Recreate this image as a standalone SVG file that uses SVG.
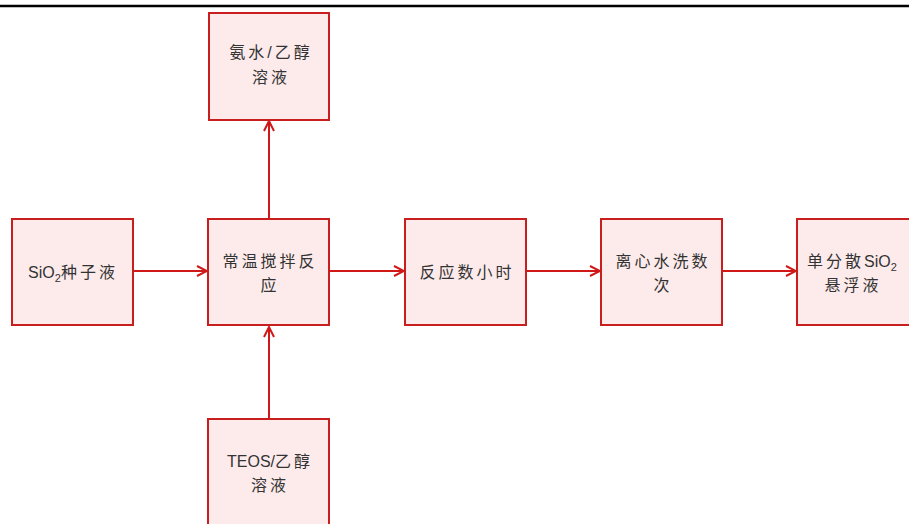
<svg xmlns="http://www.w3.org/2000/svg" width="909" height="524" viewBox="0 0 909 524">
<defs>
<style>
.box{fill:#FDEBEC;stroke:#C81E1E;stroke-width:2}
.t{font-family:"Liberation Sans","Noto Sans CJK SC",sans-serif;font-size:16px;fill:#333;text-anchor:middle}
.w{letter-spacing:3px}
.c{stroke:#D01818;stroke-width:2;fill:none}
</style>
<marker id="ah" viewBox="0 0 12 12" refX="11" refY="6" markerWidth="12" markerHeight="12" markerUnits="userSpaceOnUse" orient="auto">
<path d="M1,1 L11,6 L1,11" fill="none" stroke="#D01818" stroke-width="2"/>
</marker>
</defs>
<rect width="909" height="524" fill="#fff"/>
<line x1="0" y1="6" x2="909" y2="6" stroke="#000" stroke-width="2.5"/>
<g id="connectors">
<line class="c" x1="133" y1="271" x2="207" y2="271" marker-end="url(#ah)"/>
<line class="c" x1="269" y1="218" x2="269" y2="121" marker-end="url(#ah)"/>
<line class="c" x1="269" y1="419" x2="269" y2="327" marker-end="url(#ah)"/>
<line class="c" x1="329" y1="271" x2="404" y2="271" marker-end="url(#ah)"/>
<line class="c" x1="526" y1="271" x2="600" y2="271" marker-end="url(#ah)"/>
<line class="c" x1="722" y1="271" x2="796" y2="271" marker-end="url(#ah)"/>
</g>
<g id="n1"><rect class="box" x="209" y="13" width="120" height="107"/>
<text class="t w" x="271" y="58">氨水/乙醇</text><text class="t w" x="271" y="83">溶液</text></g>
<g id="n2"><rect class="box" x="12" y="219" width="121" height="106"/>
<text class="t" x="73" y="278">SiO<tspan font-size="11" dy="4">2</tspan><tspan class="w" dy="-4">种子液</tspan></text></g>
<g id="n3"><rect class="box" x="208" y="219" width="121" height="106"/>
<text class="t w" x="270" y="267">常温搅拌反</text><text class="t w" x="270" y="291">应</text></g>
<g id="n4"><rect class="box" x="405" y="219" width="121" height="106"/>
<text class="t w" x="467" y="278">反应数小时</text></g>
<g id="n5"><rect class="box" x="601" y="219" width="121" height="106"/>
<text class="t w" x="663" y="267">离心水洗数</text><text class="t w" x="663" y="291">次</text></g>
<g id="n6"><rect class="box" x="797" y="219" width="122" height="106"/>
<text class="t" x="852" y="267"><tspan class="w">单分散</tspan>SiO<tspan font-size="11" dy="4">2</tspan></text><text class="t w" x="853" y="291">悬浮液</text></g>
<g id="n7"><rect class="box" x="208" y="419" width="121" height="110"/>
<text class="t" x="270" y="467">TEOS/<tspan class="w">乙醇</tspan></text><text class="t w" x="270" y="491">溶液</text></g>
</svg>
